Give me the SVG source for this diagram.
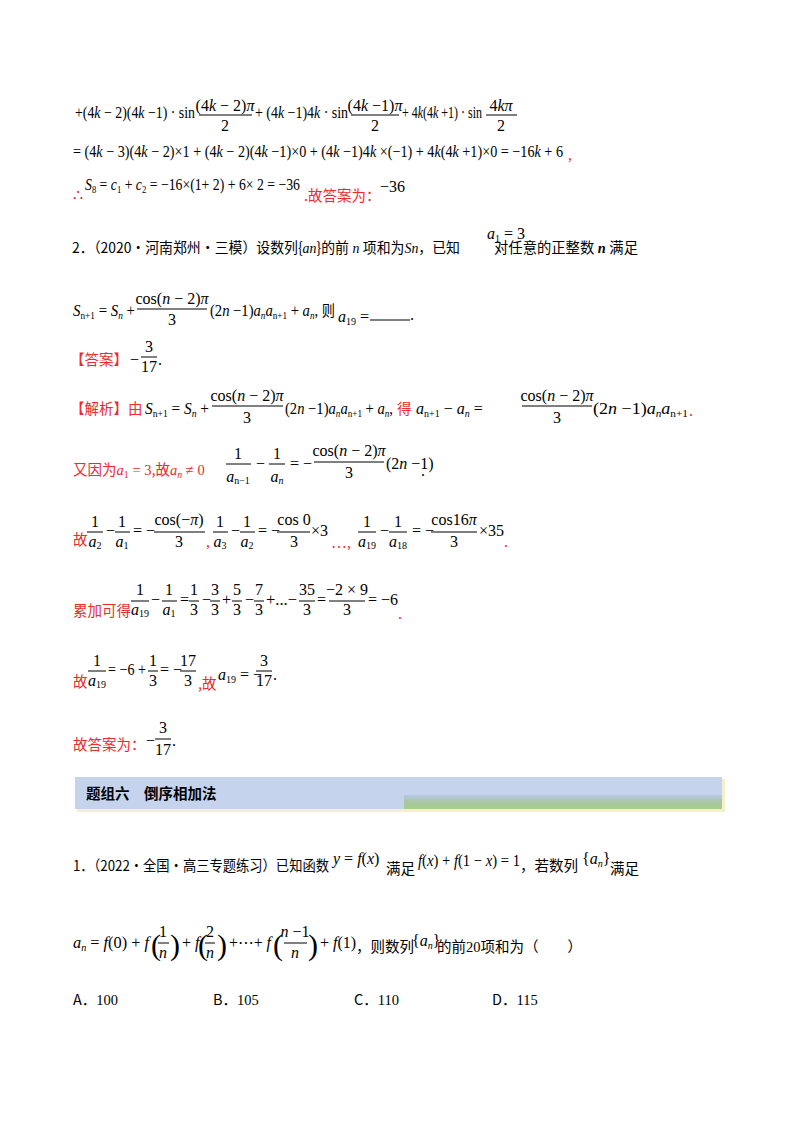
<svg xmlns="http://www.w3.org/2000/svg" width="800" height="1132" viewBox="0 0 800 1132" font-family="'Liberation Serif', serif">
<defs>
<style>
text{font-family:'Liberation Serif','DejaVu Serif',serif;font-size:16px;fill:#000}
.c{font-family:'Noto Sans CJK SC',sans-serif;font-size:14.5px}
.m{font-family:'Liberation Serif','DejaVu Serif',serif}
.r{fill:#ee2a2a}
.i{font-style:italic}
.s{font-size:10px}
.t{text-anchor:middle}
.b{font-weight:bold;font-size:14.5px;font-family:'Noto Sans CJK SC',sans-serif}
.p{font-size:30px}
line{stroke:#000;stroke-width:1}
</style>
<linearGradient id="g" x1="0" y1="0" x2="0" y2="1"><stop offset="0" stop-color="#b7c9e6"/><stop offset="0.45" stop-color="#a9c6a8"/><stop offset="1" stop-color="#a6cf86"/></linearGradient>
</defs>
<rect width="800" height="1132" fill="#fff"/>

<g id="line1">
<text x="75" y="118" textLength="120" lengthAdjust="spacingAndGlyphs">+(4<tspan class="i">k</tspan> − 2)(4<tspan class="i">k</tspan> −1) · sin</text>
<text x="225" y="111" class="t">(4<tspan class="i">k</tspan> − 2)<tspan class="i">π</tspan></text><line x1="199" y1="115" x2="252" y2="115"/><text x="225" y="131" class="t">2</text>
<text x="255" y="118" textLength="93" lengthAdjust="spacingAndGlyphs">+ (4<tspan class="i">k</tspan> −1)4<tspan class="i">k</tspan> · sin</text>
<text x="375" y="111" class="t">(4<tspan class="i">k</tspan> −1)<tspan class="i">π</tspan></text><line x1="351" y1="115" x2="399" y2="115"/><text x="375" y="131" class="t">2</text>
<text x="402" y="118" textLength="80" lengthAdjust="spacingAndGlyphs">+ 4<tspan class="i">k</tspan>(4<tspan class="i">k</tspan> +1) · sin</text>
<text x="501" y="111" class="t">4<tspan class="i">kπ</tspan></text><line x1="486" y1="115" x2="517" y2="115"/><text x="501" y="131" class="t">2</text>
</g>
<g id="line2">
<text x="73" y="157" textLength="490" lengthAdjust="spacingAndGlyphs">= (4<tspan class="i">k</tspan> − 3)(4<tspan class="i">k</tspan> − 2)×1 + (4<tspan class="i">k</tspan> − 2)(4<tspan class="i">k</tspan> −1)×0 + (4<tspan class="i">k</tspan> −1)4<tspan class="i">k</tspan> ×(−1) + 4<tspan class="i">k</tspan>(4<tspan class="i">k</tspan> +1)×0 = −16<tspan class="i">k</tspan> + 6</text>
<text x="568" y="160" class="r">,</text>
</g>
<g id="line3">
<text x="73" y="201" class="r">∴</text>
<text x="85" y="190" textLength="215" lengthAdjust="spacingAndGlyphs"><tspan class="i">S</tspan><tspan class="s" dy="3">8</tspan><tspan dy="-3"> = </tspan><tspan class="i">c</tspan><tspan class="s" dy="3">1</tspan><tspan dy="-3"> + </tspan><tspan class="i">c</tspan><tspan class="s" dy="3">2</tspan><tspan dy="-3"> = −16×(1+ 2) + 6× 2 = −36</tspan></text>
<text x="304" y="201" class="c r">.故答案为：</text>
<text x="380" y="192">−36</text>
</g>

<g id="q2">
<text x="72" y="253" class="c" textLength="388" lengthAdjust="spacingAndGlyphs">2．（2020·河南郑州·三模）设数列{<tspan class="i m">an</tspan>}的前<tspan class="i m"> n </tspan>项和为<tspan class="i m">Sn</tspan>，已知</text>
<text x="487" y="239"><tspan class="i">a</tspan><tspan class="s" dy="3">1</tspan><tspan dy="-3"> = 3</tspan></text>
<text x="494" y="253" class="c" textLength="144" lengthAdjust="spacingAndGlyphs">对任意的正整数<tspan class="i m" style="font-weight:bold"> n </tspan>满足</text>
</g>
<g id="q2eq">
<text x="73" y="316" textLength="62" lengthAdjust="spacingAndGlyphs"><tspan class="i">S</tspan><tspan class="s" dy="3">n+1</tspan><tspan dy="-3"> = </tspan><tspan class="i">S</tspan><tspan class="s i" dy="3">n</tspan><tspan dy="-3"> +</tspan></text>
<text x="172" y="304" class="t">cos(<tspan class="i">n</tspan> − 2)<tspan class="i">π</tspan></text><line x1="137" y1="309" x2="207" y2="309"/><text x="172" y="325" class="t">3</text>
<text x="210" y="316" textLength="125" lengthAdjust="spacingAndGlyphs">(2<tspan class="i">n</tspan> −1)<tspan class="i">a</tspan><tspan class="s i" dy="3">n</tspan><tspan class="i" dy="-3">a</tspan><tspan class="s" dy="3">n+1</tspan><tspan dy="-3"> + </tspan><tspan class="i">a</tspan><tspan class="s i" dy="3">n</tspan><tspan dy="-3">, </tspan><tspan class="c">则</tspan></text>
<text x="338" y="322"><tspan class="i">a</tspan><tspan class="s" dy="3">19</tspan><tspan dy="-3"> = </tspan></text>
<line x1="370" y1="320" x2="410" y2="320"/>
<text x="410" y="320">.</text>
</g>
<g id="answer">
<text x="70" y="365" class="c r">【答案】</text>
<text x="130" y="365">−</text>
<text x="149" y="352" class="t">3</text><line x1="141" y1="357" x2="157" y2="357"/><text x="149" y="372" class="t">17</text>
<text x="158" y="365">.</text>
</g>
<g id="analysis1">
<text x="70" y="414" class="c r">【解析】由</text>
<text x="145" y="414" textLength="64" lengthAdjust="spacingAndGlyphs"><tspan class="i">S</tspan><tspan class="s" dy="3">n+1</tspan><tspan dy="-3"> = </tspan><tspan class="i">S</tspan><tspan class="s i" dy="3">n</tspan><tspan dy="-3"> +</tspan></text>
<text x="247" y="401" class="t">cos(<tspan class="i">n</tspan> − 2)<tspan class="i">π</tspan></text><line x1="212" y1="406" x2="283" y2="406"/><text x="247" y="423" class="t">3</text>
<text x="285" y="414" textLength="108" lengthAdjust="spacingAndGlyphs">(2<tspan class="i">n</tspan> −1)<tspan class="i">a</tspan><tspan class="s i" dy="3">n</tspan><tspan class="i" dy="-3">a</tspan><tspan class="s" dy="3">n+1</tspan><tspan dy="-3"> + </tspan><tspan class="i">a</tspan><tspan class="s i" dy="3">n</tspan><tspan dy="-3">,</tspan></text>
<text x="397" y="414" class="c r">得</text>
<text x="416" y="414"><tspan class="i">a</tspan><tspan class="s" dy="3">n+1</tspan><tspan dy="-3">  −  </tspan><tspan class="i">a</tspan><tspan class="s i" dy="3">n</tspan><tspan dy="-3">  =</tspan></text>
<text x="557" y="401" class="t">cos(<tspan class="i">n</tspan> − 2)<tspan class="i">π</tspan></text><line x1="522" y1="406" x2="592" y2="406"/><text x="557" y="423" class="t">3</text>
<text x="593" y="414" textLength="95" lengthAdjust="spacingAndGlyphs">(2<tspan class="i">n</tspan> −1)<tspan class="i">a</tspan><tspan class="s i" dy="3">n</tspan><tspan class="i" dy="-3">a</tspan><tspan class="s" dy="3">n+1</tspan></text>
<text x="689" y="416" class="r">.</text>
</g>
<g id="analysis2">
<text x="73" y="475" class="c r">又因为<tspan class="i m">a</tspan><tspan class="s m" dy="3">1</tspan><tspan class="m" dy="-3"> = 3</tspan>,故<tspan class="i m">a</tspan><tspan class="s i m" dy="3">n</tspan><tspan class="m" dy="-3"> ≠ 0</tspan></text>
<text x="238" y="459" class="t">1</text><line x1="226" y1="464" x2="251" y2="464"/><text x="238" y="482" class="t"><tspan class="i">a</tspan><tspan class="s" dy="2">n−1</tspan></text>
<text x="256" y="469">−</text>
<text x="277" y="459" class="t">1</text><line x1="269" y1="464" x2="285" y2="464"/><text x="277" y="482" class="t"><tspan class="i">a</tspan><tspan class="s i" dy="2">n</tspan></text>
<text x="290" y="469">= −</text>
<text x="349" y="456" class="t">cos(<tspan class="i">n</tspan> − 2)<tspan class="i">π</tspan></text><line x1="314" y1="462" x2="384" y2="462"/><text x="349" y="478" class="t">3</text>
<text x="386" y="469">(2<tspan class="i">n</tspan> −1)</text>
<text x="421" y="476">.</text>
</g>
<g id="analysis3">
<text x="73" y="545" class="c r">故</text>
<text x="95" y="527" class="t">1</text><line x1="87" y1="532" x2="103" y2="532"/><text x="95" y="547" class="t"><tspan class="i">a</tspan><tspan class="s" dy="2">2</tspan></text>
<text x="106" y="536">−</text>
<text x="122" y="527" class="t">1</text><line x1="115" y1="532" x2="130" y2="532"/><text x="122" y="547" class="t"><tspan class="i">a</tspan><tspan class="s" dy="2">1</tspan></text>
<text x="133" y="536">= −</text>
<text x="179" y="525" class="t">cos(−<tspan class="i">π</tspan>)</text><line x1="154" y1="532" x2="205" y2="532"/><text x="179" y="547" class="t">3</text>
<text x="206" y="547" class="r">,</text>
<text x="220" y="527" class="t">1</text><line x1="213" y1="532" x2="228" y2="532"/><text x="220" y="547" class="t"><tspan class="i">a</tspan><tspan class="s" dy="2">3</tspan></text>
<text x="231" y="536">−</text>
<text x="247" y="527" class="t">1</text><line x1="240" y1="532" x2="255" y2="532"/><text x="247" y="547" class="t"><tspan class="i">a</tspan><tspan class="s" dy="2">2</tspan></text>
<text x="258" y="536">= −</text>
<text x="294" y="525" class="t">cos 0</text><line x1="277" y1="532" x2="310" y2="532"/><text x="294" y="547" class="t">3</text>
<text x="311" y="536">×3</text>
<text x="331" y="548" class="r">…,</text>
<text x="367" y="527" class="t">1</text><line x1="358" y1="532" x2="376" y2="532"/><text x="367" y="547" class="t"><tspan class="i">a</tspan><tspan class="s" dy="2">19</tspan></text>
<text x="380" y="536">−</text>
<text x="398" y="527" class="t">1</text><line x1="389" y1="532" x2="407" y2="532"/><text x="398" y="547" class="t"><tspan class="i">a</tspan><tspan class="s" dy="2">18</tspan></text>
<text x="412" y="536">= −</text>
<text x="454" y="525" class="t">cos16<tspan class="i">π</tspan></text><line x1="431" y1="532" x2="477" y2="532"/><text x="454" y="547" class="t">3</text>
<text x="479" y="536">×35</text>
<text x="504" y="547" class="r">.</text>
</g>
<g id="analysis4">
<text x="73" y="616" class="c r">累加可得</text>
<text x="140" y="595" class="t">1</text><line x1="131" y1="601" x2="149" y2="601"/><text x="140" y="615" class="t"><tspan class="i">a</tspan><tspan class="s" dy="2">19</tspan></text>
<text x="151" y="605">−</text>
<text x="169" y="595" class="t">1</text><line x1="162" y1="601" x2="177" y2="601"/><text x="169" y="615" class="t"><tspan class="i">a</tspan><tspan class="s" dy="2">1</tspan></text>
<text x="180" y="605">=</text>
<text x="194" y="595" class="t">1</text><line x1="189" y1="601" x2="199" y2="601"/><text x="194" y="615" class="t">3</text>
<text x="202" y="605">−</text>
<text x="215" y="595" class="t">3</text><line x1="210" y1="601" x2="220" y2="601"/><text x="215" y="615" class="t">3</text>
<text x="222" y="605">+</text>
<text x="237" y="595" class="t">5</text><line x1="232" y1="601" x2="242" y2="601"/><text x="237" y="615" class="t">3</text>
<text x="245" y="605">−</text>
<text x="259" y="595" class="t">7</text><line x1="254" y1="601" x2="264" y2="601"/><text x="259" y="615" class="t">3</text>
<text x="266" y="605" textLength="31" lengthAdjust="spacingAndGlyphs">+...−</text>
<text x="307" y="595" class="t">35</text><line x1="299" y1="601" x2="315" y2="601"/><text x="307" y="615" class="t">3</text>
<text x="317" y="605">=</text>
<text x="347" y="595" class="t">−2 × 9</text><line x1="329" y1="601" x2="365" y2="601"/><text x="347" y="615" class="t">3</text>
<text x="368" y="605">= −6</text>
<text x="398" y="619" class="r">.</text>
</g>
<g id="analysis5">
<text x="73" y="687" class="c r">故</text>
<text x="97" y="666" class="t">1</text><line x1="88" y1="671" x2="106" y2="671"/><text x="97" y="686" class="t"><tspan class="i">a</tspan><tspan class="s" dy="2">19</tspan></text>
<text x="108" y="675" textLength="38" lengthAdjust="spacingAndGlyphs">= −6 +</text>
<text x="153" y="666" class="t">1</text><line x1="148" y1="671" x2="158" y2="671"/><text x="153" y="686" class="t">3</text>
<text x="160" y="675">= −</text>
<text x="188" y="666" class="t">17</text><line x1="180" y1="671" x2="196" y2="671"/><text x="188" y="686" class="t">3</text>
<text x="198" y="689" class="c r">,故</text>
<text x="218" y="680"><tspan class="i">a</tspan><tspan class="s" dy="3">19</tspan><tspan dy="-3"> = −</tspan></text>
<text x="264" y="666" class="t">3</text><line x1="256" y1="671" x2="272" y2="671"/><text x="264" y="686" class="t">17</text>
<text x="273" y="680">.</text>
</g>
<g id="analysis6">
<text x="73" y="750" class="c r">故答案为：</text>
<text x="146" y="746">−</text>
<text x="163" y="733" class="t">3</text><line x1="155" y1="739" x2="171" y2="739"/><text x="163" y="755" class="t">17</text>
<text x="172" y="746">.</text>
</g>

<g id="banner">
<rect x="77" y="779" width="648" height="33" fill="#efe9b8" opacity="0.7"/>
<rect x="75" y="777" width="647" height="32" fill="#c5d4ec"/>
<rect x="404" y="795" width="318" height="14" fill="url(#g)"/>
<text x="86" y="799" class="b">题组六　倒序相加法</text>
</g>

<g id="q1">
<text x="73" y="871" class="c" textLength="256" lengthAdjust="spacingAndGlyphs">1．（2022·全国·高三专题练习）已知函数</text>
<text x="333" y="864"><tspan class="i">y</tspan> = <tspan class="i">f</tspan>(<tspan class="i">x</tspan>)</text>
<text x="386" y="874" class="c">满足</text>
<text x="418" y="866" textLength="102" lengthAdjust="spacingAndGlyphs"><tspan class="i">f</tspan>(<tspan class="i">x</tspan>) + <tspan class="i">f</tspan>(1 − <tspan class="i">x</tspan>) = 1</text>
<text x="520" y="871" class="c">，若数列</text>
<text x="582" y="864">{<tspan class="i">a</tspan><tspan class="s i" dy="3">n</tspan><tspan dy="-3">}</tspan></text>
<text x="610" y="874" class="c">满足</text>
</g>
<g id="q1eq">
<text x="73" y="948" textLength="76" lengthAdjust="spacingAndGlyphs"><tspan class="i">a</tspan><tspan class="s i" dy="3">n</tspan><tspan dy="-3"> = </tspan><tspan class="i">f</tspan>(0) + <tspan class="i">f</tspan></text>
<text x="151" y="955" class="p">(</text>
<text x="163" y="937" class="t">1</text><line x1="158" y1="943" x2="169" y2="943"/><text x="163" y="958" class="t i">n</text>
<text x="170" y="955" class="p">)</text>
<text x="182" y="948">+ <tspan class="i">f</tspan></text>
<text x="198" y="955" class="p">(</text>
<text x="210" y="937" class="t">2</text><line x1="205" y1="943" x2="215" y2="943"/><text x="210" y="958" class="t i">n</text>
<text x="217" y="955" class="p">)</text>
<text x="229" y="948" textLength="42" lengthAdjust="spacingAndGlyphs">+⋯+ <tspan class="i">f</tspan></text>
<text x="273" y="955" class="p">(</text>
<text x="295" y="937" class="t"><tspan class="i">n</tspan> −1</text><line x1="284" y1="943" x2="307" y2="943"/><text x="295" y="958" class="t i">n</text>
<text x="308" y="955" class="p">)</text>
<text x="320" y="948">+ <tspan class="i">f</tspan>(1)</text>
<text x="356" y="952" class="c">，则数列</text>
<text x="412" y="946">{<tspan class="i">a</tspan><tspan class="s i" dy="3">n</tspan><tspan dy="-3">}</tspan></text>
<text x="437" y="952" class="c">的前<tspan class="m">20</tspan>项和为（　　）</text>
</g>
<g id="options">
<text x="73" y="1005" class="c">A．<tspan class="m">100</tspan></text>
<text x="213" y="1005" class="c">B．<tspan class="m">105</tspan></text>
<text x="354" y="1005" class="c">C．<tspan class="m">110</tspan></text>
<text x="492" y="1005" class="c">D．<tspan class="m">115</tspan></text>
</g>
</svg>
